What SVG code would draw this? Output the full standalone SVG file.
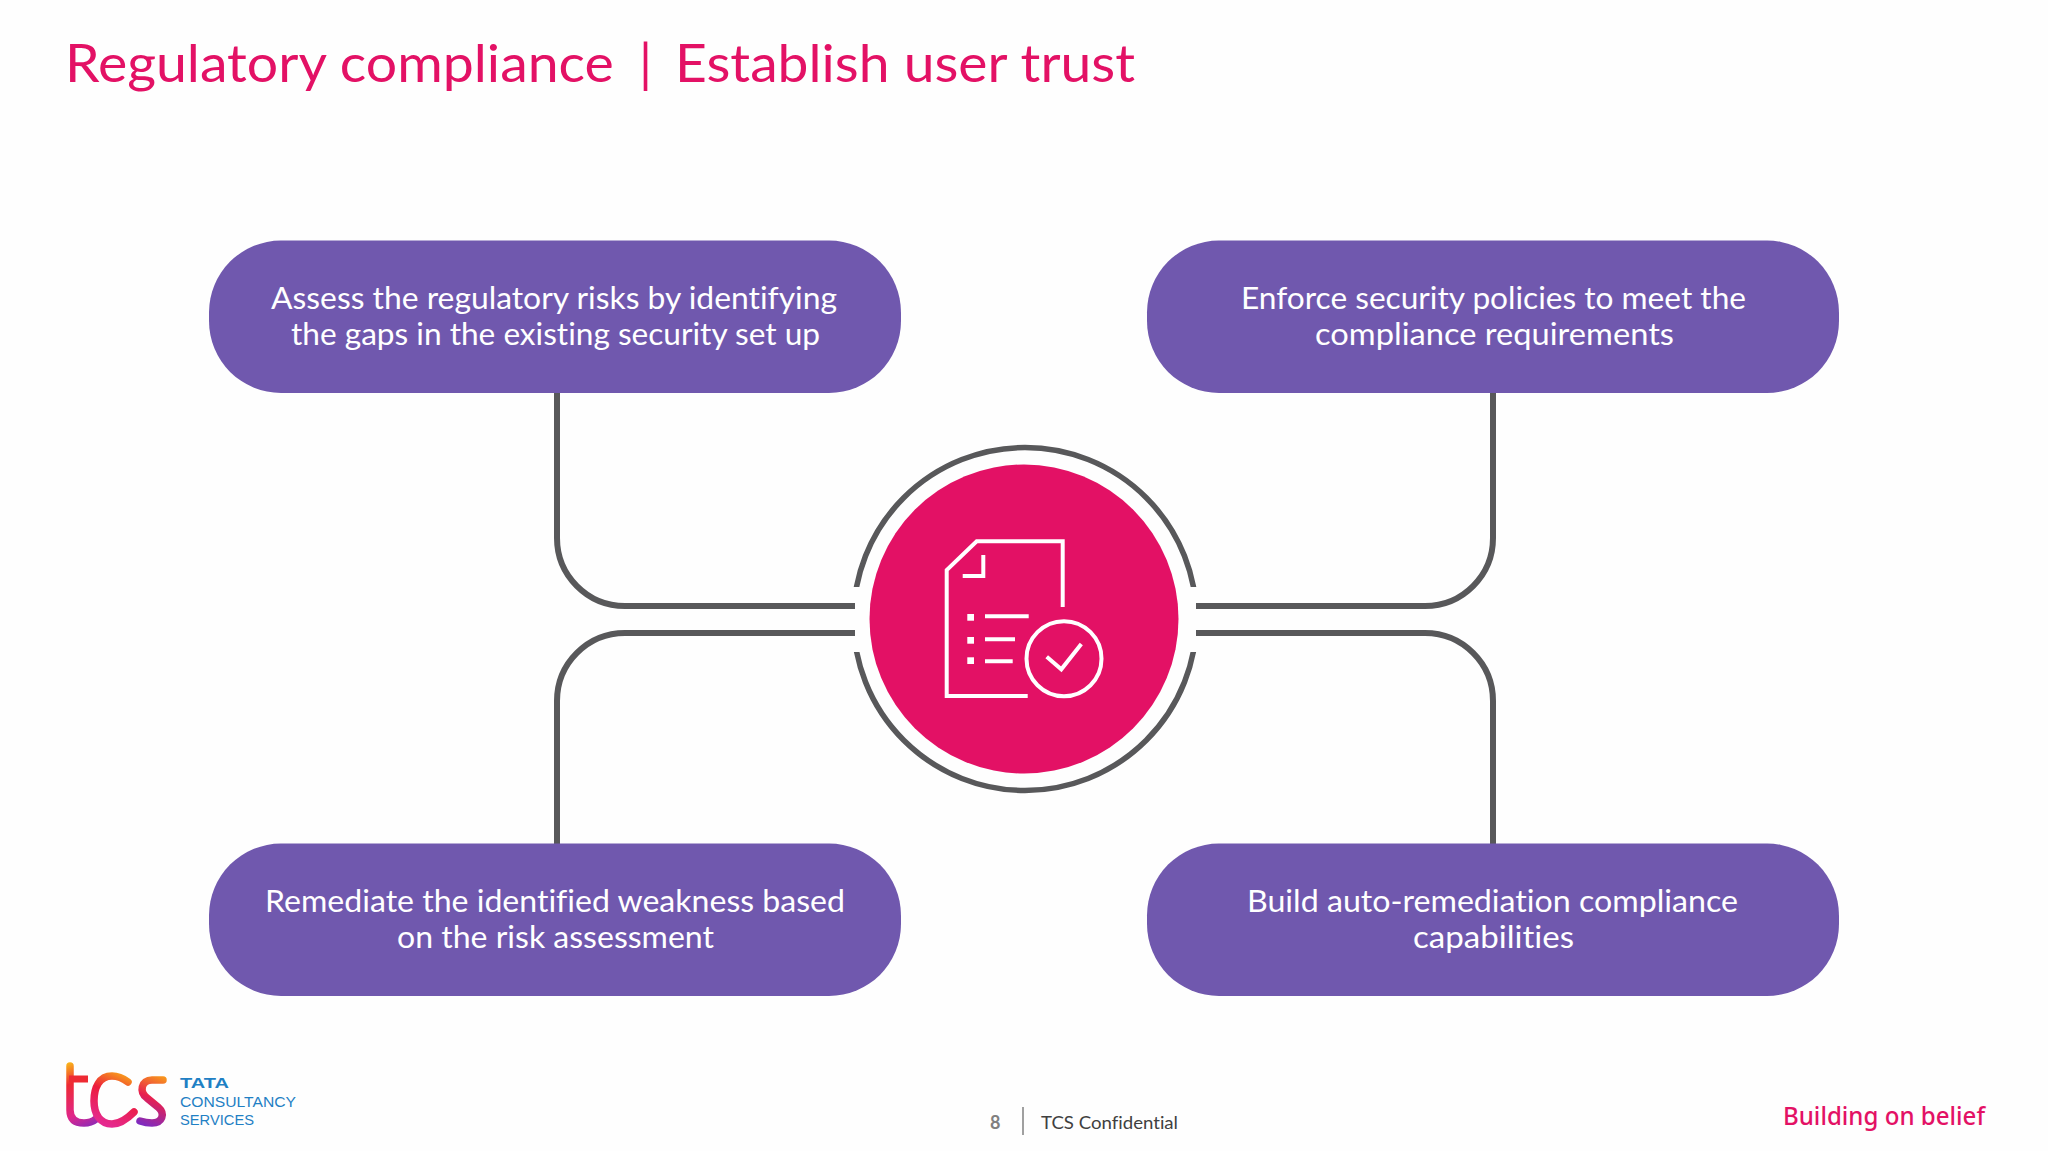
<svg xmlns="http://www.w3.org/2000/svg" width="2048" height="1151" viewBox="0 0 2048 1151">
<style>
text{font-family:Lato,"Liberation Sans",Arial,sans-serif;font-variant-ligatures:none}
.pill{fill:#7058AE}
.nt{fill:#fff;font-size:30px;text-anchor:start}
.ttl{fill:#E31165;font-size:52px}
.conn{fill:none;stroke:#58585A;stroke-width:6}
.ico{fill:none;stroke:#fff;stroke-width:4}
.bul{fill:#fff}
.logo{fill:#1F80C4;font-size:15.5px;font-family:"Liberation Sans",Arial,sans-serif}
</style>
<defs>
<clipPath id="ringClip"><rect x="840" y="430" width="370" height="157"/><rect x="840" y="652" width="370" height="160"/></clipPath>
<linearGradient id="gt" gradientUnits="userSpaceOnUse" x1="70" y1="1062" x2="95" y2="1126"><stop offset="0" stop-color="#F9B61A"/><stop offset=".3" stop-color="#EE2A33"/><stop offset=".75" stop-color="#E0268A"/><stop offset="1" stop-color="#8A2BB8"/></linearGradient>
<linearGradient id="gc" gradientUnits="userSpaceOnUse" x1="130" y1="1078" x2="110" y2="1126"><stop offset="0" stop-color="#F7941D"/><stop offset=".4" stop-color="#EC1C3C"/><stop offset="1" stop-color="#E5298F"/></linearGradient>
<linearGradient id="gs" gradientUnits="userSpaceOnUse" x1="165" y1="1078" x2="145" y2="1126"><stop offset="0" stop-color="#F7941D"/><stop offset=".45" stop-color="#E8204F"/><stop offset="1" stop-color="#7E2BC0"/></linearGradient>
</defs>
<rect width="2048" height="1151" fill="#FEFEFE"/>
<text id="title" class="ttl" y="82"><tspan x="65" textLength="563" lengthAdjust="spacingAndGlyphs">Regulatory compliance </tspan><tspan x="639">| </tspan><tspan x="675" textLength="460" lengthAdjust="spacingAndGlyphs">Establish user trust</tspan></text>
<g id="connectors">
<path class="conn" d="M557 393V538A68 68 0 0 0 625 606H855"/>
<path class="conn" d="M1493 393V538A68 68 0 0 1 1425 606H1196"/>
<path class="conn" d="M557 844V701A68 68 0 0 1 625 633H855"/>
<path class="conn" d="M1493 844V701A68 68 0 0 0 1425 633H1196"/>
</g>
<g id="node-center">
<circle cx="1025" cy="619" r="171.5" fill="none" stroke="#58585A" stroke-width="5.5" clip-path="url(#ringClip)"/>
<circle cx="1024" cy="619" r="154.5" fill="#E31165"/>
<path class="ico" d="M1062.7 607V541.3H976.7L946.7 570V696H1027.7"/>
<path class="ico" d="M962.7 576H983.3V555"/>
<rect class="bul" x="967.3" y="614" width="6.7" height="6.7"/>
<rect class="bul" x="967.3" y="637" width="6.7" height="6.7"/>
<rect class="bul" x="967.3" y="657.3" width="6.7" height="6.7"/>
<path class="ico" d="M985 616.3H1028.7M985 639.3H1015M985 661.3H1012.7"/>
<circle class="ico" cx="1064" cy="658.7" r="37.5"/>
<path class="ico" d="M1046.7 656.7L1061.3 669.3L1081.3 644"/>
</g>
<g id="node-tl">
<rect class="pill" x="209" y="240.5" width="692" height="152.5" rx="72" ry="72"/>
<text class="nt" x="271" y="309" textLength="566" lengthAdjust="spacingAndGlyphs">Assess the regulatory risks by identifying</text>
<text class="nt" x="291" y="345" textLength="529" lengthAdjust="spacingAndGlyphs">the gaps in the existing security set up</text>
</g>
<g id="node-tr">
<rect class="pill" x="1147" y="240.5" width="692" height="152.5" rx="72" ry="72"/>
<text class="nt" x="1241" y="309" textLength="505" lengthAdjust="spacingAndGlyphs">Enforce security policies to meet the</text>
<text class="nt" x="1315" y="345" textLength="359" lengthAdjust="spacingAndGlyphs">compliance requirements</text>
</g>
<g id="node-bl">
<rect class="pill" x="209" y="843.5" width="692" height="152.5" rx="72" ry="72"/>
<text class="nt" x="265" y="912" textLength="580" lengthAdjust="spacingAndGlyphs">Remediate the identified weakness based</text>
<text class="nt" x="397" y="948" textLength="317" lengthAdjust="spacingAndGlyphs">on the risk assessment</text>
</g>
<g id="node-br">
<rect class="pill" x="1147" y="843.5" width="692" height="152.5" rx="72" ry="72"/>
<text class="nt" x="1247" y="912" textLength="491" lengthAdjust="spacingAndGlyphs">Build auto-remediation compliance</text>
<text class="nt" x="1413" y="948" textLength="161" lengthAdjust="spacingAndGlyphs">capabilities</text>
</g>
<g id="logo">
<path d="M70 1066V1110Q70 1123 84 1123Q91 1123 96 1119" fill="none" stroke="url(#gt)" stroke-width="7.5" stroke-linecap="round"/>
<path d="M69 1079H88" fill="none" stroke="#EE2A33" stroke-width="7"/>
<path d="M128 1082Q120 1076 112 1076C99 1076 94 1088 94 1101C94 1114 100 1124 112 1124Q122 1124 134 1112" fill="none" stroke="url(#gc)" stroke-width="7.5" stroke-linecap="round"/>
<path d="M163 1080H152C141 1080 139 1092 147 1098L158 1107C166 1114 162 1123 152 1123Q146 1123 140 1121" fill="none" stroke="url(#gs)" stroke-width="7.5" stroke-linecap="round"/>
<text class="logo" x="180" y="1088" font-weight="700" textLength="49" lengthAdjust="spacingAndGlyphs">TATA</text>
<text class="logo" x="180" y="1106.5" textLength="116" lengthAdjust="spacingAndGlyphs">CONSULTANCY</text>
<text class="logo" x="180" y="1125" textLength="74" lengthAdjust="spacingAndGlyphs">SERVICES</text>
</g>
<g id="footer">
<text x="990" y="1129" font-size="18" font-weight="700" fill="#808080">8</text>
<path d="M1023 1107V1135" stroke="#808080" stroke-width="1.5"/>
<text x="1041" y="1129" font-size="18" fill="#404040" textLength="137" lengthAdjust="spacingAndGlyphs">TCS Confidential</text>
<text x="1783" y="1125" font-size="25" fill="#E31165" font-weight="500" style="font-family:'Noto Sans',sans-serif" textLength="202" lengthAdjust="spacingAndGlyphs">Building on belief</text>
</g>
</svg>
